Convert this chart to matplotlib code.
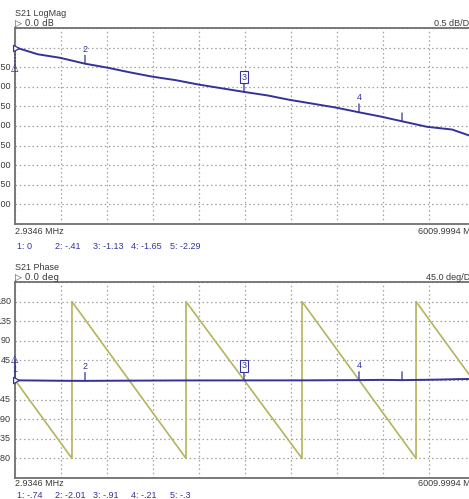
import matplotlib
matplotlib.use("Agg")
import matplotlib.pyplot as plt
import numpy as np

W, H = 469, 499

# Balayage 2.9346 MHz -> 6009.9994 MHz
f_start = 2.9346
f_stop = 6009.9994

# Trace S21 module (dB)
mag_freq = [2.93, 68, 300, 591, 917, 1204, 1500, 1792, 2100, 2393, 2993, 3300, 3581, 4195, 4495, 4782, 5057, 5383, 5710, 5932, 6010]
mag_db = [0.0, -0.03, -0.17, -0.26, -0.41, -0.51, -0.63, -0.74, -0.83, -0.94, -1.13, -1.22, -1.33, -1.53, -1.65, -1.76, -1.88, -2.02, -2.09, -2.24, -2.29]

# Trace S21 phase (deg), sans retard electrique
ph_freq = [2.93, 300, 600, 917, 1500, 2200, 2993, 3800, 4495, 4800, 5057, 5500, 5800, 6010]
ph_deg = [-0.74, -1.2, -1.8, -2.01, -1.5, -1.0, -0.91, -0.8, -0.21, 0.3, -0.3, 0.8, 2.0, 2.5]

# Phase avec repliement (+/-180)
wrap_freq = [2.93, 747, 747, 2236, 2236, 3751, 3751, 5240, 5240, 6010]
wrap_deg = [0, -180, 180, -180, 180, -180, 180, -180, 180, -6]

# Marqueurs
mk_freq = [2.93, 917, 2993, 4495, 5057]
mk_labels = ["1", "2", "3", "4", "5"]
mag_readout = ["1: 0", "2: -.41", "3: -1.13", "4: -1.65", "5: -2.29"]
ph_readout = ["1: -.74", "2: -2.01", "3: -.91", "4: -.21", "5: -.3"]

mag_ticks = [0.0, -0.5, -1.0, -1.5, -2.0, -2.5, -3.0, -3.5, -4.0]
ph_ticks = [180, 135, 90, 45, 0, -45, -90, -135, -180]

BLUE = "#33339a"
OLIVE = "#b4b45e"
GRID = "#a0a0a0"
TXT = "#3a3a3a"
FONT = "Liberation Sans"

plt.rcParams["font.family"] = [FONT, "DejaVu Sans"]

fig = plt.figure(figsize=(W / 100, H / 100), dpi=100)
fig.patch.set_facecolor("white")


def px_axes(x0, y0, x1, y1):
    # axes defini en pixels (origine en haut a gauche)
    return fig.add_axes([x0 / W, 1 - y1 / H, (x1 - x0) / W, (y1 - y0) / H])


def fx(x):
    return x / W


def fy(y):
    return 1 - y / H


def setup(ax, ymin, ymax, ticks, labels):
    ax.set_xlim(f_start, f_stop)
    ax.set_ylim(ymin, ymax)
    ax.set_xticks(np.linspace(f_start, f_stop, 11))
    ax.set_yticks(np.linspace(ymin, ymax, 11))
    ax.set_xticklabels([])
    ax.set_yticklabels([])
    ax.tick_params(length=0)
    ax.grid(True, color=GRID, linestyle=(0, (1.2, 2.2)), linewidth=0.9)
    for s in ax.spines.values():
        s.set_color("#707070")
        s.set_linewidth(1.3)
    # libelles de l'echelle, alignes a droite contre le cadre
    for v, lab in zip(ticks, labels):
        if lab:
            ax.annotate(lab, xy=(0, v), xycoords=("axes fraction", "data"),
                        xytext=(-3, 0), textcoords="offset points",
                        ha="right", va="center", fontsize=6.5, color=TXT,
                        annotation_clip=False)
    # reference a gauche du cadre
    ax.plot([f_start], [0], marker=(3, 0, -90), markersize=5.5, markerfacecolor="white",
            markeredgecolor=BLUE, markeredgewidth=0.9, clip_on=False, zorder=6)


def markers(ax, freqs, vals, first_up):
    for i, (f, lab) in enumerate(zip(mk_freq, mk_labels)):
        v = float(np.interp(f, freqs, vals))
        if i == 0:
            dy = 15 if first_up else -15
            ax.annotate("", xy=(f, v), xytext=(0, dy), textcoords="offset points",
                        arrowprops=dict(arrowstyle="-", color=BLUE, lw=0.9,
                                        shrinkA=0, shrinkB=0,
                                        linestyle="-" if first_up else ":"),
                        annotation_clip=False)
            ax.annotate("\u25B3", xy=(f, v), xytext=(0, dy), textcoords="offset points",
                        ha="center", va="center", fontsize=7, color=BLUE,
                        family=["DejaVu Sans"], annotation_clip=False, zorder=7)
            if first_up:
                ax.annotate("1", xy=(f, v), xytext=(0, 8), textcoords="offset points",
                            ha="center", va="center", fontsize=6.5, color=BLUE,
                            annotation_clip=False)
            continue
        ax.annotate("", xy=(f, v), xytext=(0, 6), textcoords="offset points",
                    arrowprops=dict(arrowstyle="-", color=BLUE, lw=0.9,
                                    shrinkA=0, shrinkB=0))
        if lab == "5":
            continue
        box = None
        if lab == "3":
            box = dict(boxstyle="square,pad=0.15", fc="white", ec=BLUE, lw=0.8)
        ax.annotate(lab, xy=(f, v), xytext=(0, 10.5), textcoords="offset points",
                    ha="center", va="center", fontsize=6.5, color=BLUE, bbox=box)


# ---- S21 LogMag ----
ax1 = px_axes(15, 28, 475, 224)
setup(ax1, -4.5, 0.5, mag_ticks, [""] + ["%.2f" % t for t in mag_ticks[1:]])
ax1.plot(mag_freq, mag_db, color=BLUE, lw=1.4, zorder=4)
markers(ax1, mag_freq, mag_db, first_up=False)

fig.text(fx(15), fy(13), "S21 LogMag", fontsize=6.5, color=TXT, va="center")
fig.text(fx(15), fy(23), "\u25B7 0.0 dB", fontsize=6.5, color=TXT, va="center",
         family=["DejaVu Sans"])
fig.text(fx(434), fy(23), "0.5 dB/DIV", fontsize=6.5, color=TXT, va="center")
fig.text(fx(15), fy(231), "2.9346 MHz", fontsize=6.5, color=TXT, va="center")
fig.text(fx(418), fy(231), "6009.9994 MHz", fontsize=6.5, color=TXT, va="center")
for x, s in zip([17, 55, 93, 131, 170], mag_readout):
    fig.text(fx(x), fy(246), s, fontsize=6.5, color=BLUE, va="center")

# ---- S21 Phase ----
ax2 = px_axes(15, 282, 475, 478)
setup(ax2, -225, 225, ph_ticks, ["%d" % t if t != 0 else "" for t in ph_ticks])
ax2.plot(wrap_freq, wrap_deg, color=OLIVE, lw=1.2, zorder=3)
ax2.plot(ph_freq, ph_deg, color=BLUE, lw=1.4, zorder=4)
markers(ax2, ph_freq, ph_deg, first_up=True)

fig.text(fx(15), fy(267), "S21 Phase", fontsize=6.5, color=TXT, va="center")
fig.text(fx(15), fy(277), "\u25B7 0.0 deg", fontsize=6.5, color=TXT, va="center",
         family=["DejaVu Sans"])
fig.text(fx(426), fy(277), "45.0 deg/DIV", fontsize=6.5, color=TXT, va="center")
fig.text(fx(15), fy(484), "2.9346 MHz", fontsize=6.5, color=TXT, va="center")
fig.text(fx(418), fy(484), "6009.9994 MHz", fontsize=6.5, color=TXT, va="center")
for x, s in zip([17, 55, 93, 131, 170], ph_readout):
    fig.text(fx(x), fy(496), s, fontsize=6.5, color=BLUE, va="center")

fig.savefig("out.png", dpi=100)
